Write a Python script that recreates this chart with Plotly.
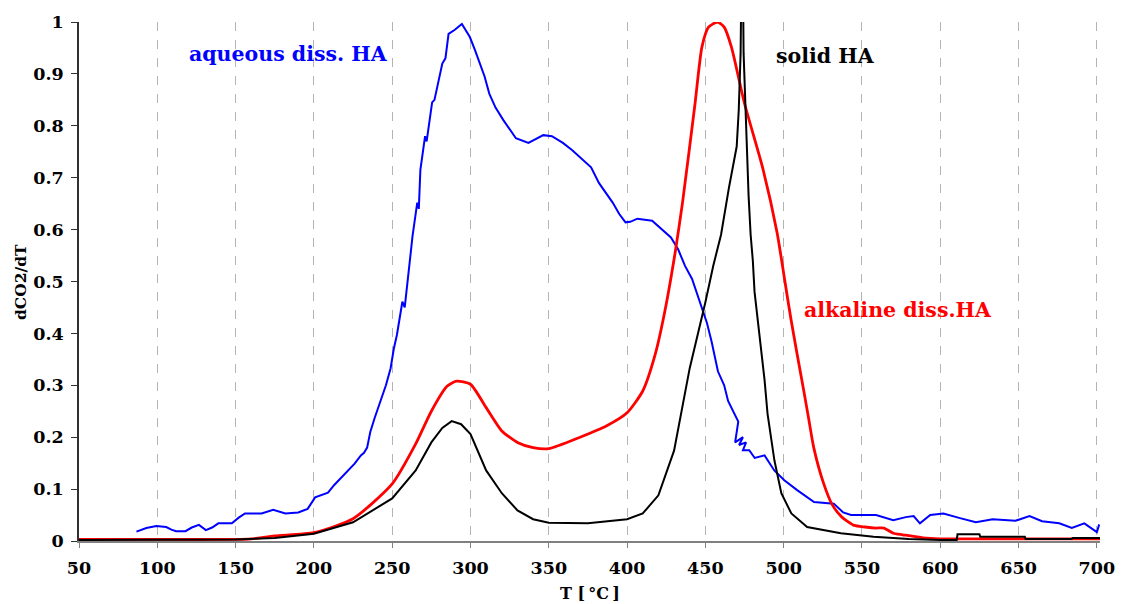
import plotly.graph_objects as go

# ---- data ----
t_solid = [50, 100, 150, 175, 200, 225, 250, 265, 275, 282, 288, 294, 300, 310, 320, 330,
           340, 350, 375, 400, 410, 420, 430, 440, 450, 455, 460, 465, 468, 470, 471.3,
           472.5, 473.0, 474.0, 474.4, 475.5, 476.8, 477.6, 478.9, 480.3, 481.4, 484.5,
           487.8, 489.7, 494.1, 498.5, 504.9, 515, 536.5, 557.4, 580, 600, 610.5, 611,
           625, 625.5, 654, 654.5, 684, 684.5, 702]
y_solid = [0.002, 0.002, 0.003, 0.006, 0.014, 0.036, 0.082, 0.136, 0.19, 0.218, 0.231, 0.225,
           0.206, 0.136, 0.092, 0.059, 0.042, 0.035, 0.034, 0.042, 0.053, 0.088, 0.174, 0.333,
           0.46, 0.53, 0.59, 0.68, 0.73, 0.76, 0.83, 0.94, 1.08, 1.08, 0.94, 0.84, 0.75,
           0.665, 0.59, 0.54, 0.48, 0.40, 0.31, 0.245, 0.155, 0.092, 0.053, 0.027, 0.015,
           0.008, 0.004, 0.002, 0.002, 0.013, 0.013, 0.008, 0.008, 0.004, 0.004, 0.006, 0.006]

t_alk = [50, 100, 150, 160, 175, 200, 225, 250, 265, 275, 285, 291, 300, 310, 320, 330, 340,
         350, 370, 387, 400, 410, 418, 424.4, 430.7, 435.4, 443.4, 447.8, 452, 457.8, 462,
         466.6, 475, 486.5, 495.8, 500.8, 504.5, 508.6, 512.8, 516, 519.2, 525.5, 531, 537.2,
         545, 552, 559, 564, 570, 576, 589, 600, 606, 702]
y_alk = [0.003, 0.003, 0.003, 0.004, 0.01, 0.016, 0.043, 0.11, 0.187, 0.25, 0.298, 0.308,
         0.302, 0.257, 0.212, 0.19, 0.18, 0.178, 0.2, 0.222, 0.247, 0.289, 0.36, 0.447, 0.556,
         0.652, 0.843, 0.952, 0.99, 1.0, 0.99, 0.952, 0.843, 0.72, 0.594, 0.50, 0.43, 0.36,
         0.29, 0.235, 0.18, 0.111, 0.07, 0.046, 0.03, 0.027, 0.025, 0.025, 0.015, 0.012,
         0.006, 0.004, 0.004, 0.004]

t_aq = [86.7, 93, 99.4, 105.7, 109, 112, 118, 122, 126.6, 131, 135, 139, 147.6, 152, 156,
        166.6, 174, 181.8, 190, 196, 200.8, 205, 209, 213, 217, 222, 226, 230, 232, 234, 236,
        238.8, 242.6, 246, 249, 251, 253, 256.5, 258, 261, 262, 263, 266, 267, 268, 271, 272,
        275.5, 277, 282, 284, 286, 290, 294.5, 299.6, 303, 306, 309, 312, 316, 321, 329, 337,
        346.5, 352, 359, 365, 372, 377, 382, 386, 390.8, 395, 399, 402, 406.6, 416, 424,
        428, 432.6, 437, 441.5, 447.8, 451, 454, 458, 462, 464.5, 471, 469, 474, 471.5, 476,
        474, 478, 481.5, 487.8, 494, 500.4, 508.6, 519.4, 532, 538, 543, 551, 559, 570, 578,
        583, 587, 593.6, 602, 612.6, 622.7, 633.5, 641.7, 648, 657, 665, 676, 684, 692, 700,
        701.5]
y_aq = [0.018, 0.025, 0.029, 0.027, 0.022, 0.019, 0.019, 0.026, 0.031, 0.021, 0.026, 0.034,
        0.034, 0.045, 0.053, 0.053, 0.06, 0.053, 0.055, 0.062, 0.084, 0.088, 0.093, 0.108,
        0.12, 0.135, 0.149, 0.165, 0.17, 0.18, 0.21, 0.237, 0.27, 0.3, 0.333, 0.37, 0.397,
        0.461, 0.45, 0.524, 0.56, 0.588, 0.652, 0.64, 0.715, 0.78, 0.77, 0.845, 0.85, 0.92,
        0.93, 0.977, 0.985, 0.996, 0.971, 0.945, 0.92, 0.895, 0.862, 0.835, 0.811, 0.776,
        0.767, 0.782, 0.78, 0.767, 0.753, 0.734, 0.72, 0.69, 0.672, 0.652, 0.63, 0.614,
        0.615, 0.621, 0.617, 0.595, 0.585, 0.562, 0.53, 0.505, 0.45, 0.42, 0.384, 0.327, 0.3,
        0.27, 0.23, 0.19, 0.2, 0.185, 0.19, 0.175, 0.175, 0.16, 0.165, 0.136, 0.117, 0.098,
        0.075, 0.072, 0.055, 0.05, 0.05, 0.05, 0.04, 0.046, 0.048, 0.034, 0.05, 0.053, 0.044,
        0.036, 0.042, 0.04, 0.039, 0.048, 0.038, 0.034, 0.025, 0.034, 0.017, 0.032, 0.021,
        0.02]

x_ticks = [50, 100, 150, 200, 250, 300, 350, 400, 450, 500, 550, 600, 650, 700]

FONT = "DejaVu Serif"

fig = go.Figure()
fig.add_trace(go.Scatter(x=t_aq, y=y_aq, mode="lines",
                         line=dict(color="#0000FF", width=2), showlegend=False))
fig.add_trace(go.Scatter(x=t_alk, y=y_alk, mode="lines",
                         line=dict(color="#FF0000", width=2.8, shape="spline", smoothing=0.6),
                         showlegend=False))
fig.add_trace(go.Scatter(x=t_solid, y=y_solid, mode="lines",
                         line=dict(color="#000000", width=2), showlegend=False))

fig.update_layout(
    width=1127, height=604,
    margin=dict(l=79, r=19, t=18, b=63),
    paper_bgcolor="white", plot_bgcolor="white",
    font=dict(family=FONT, size=17, color="black"),
    xaxis=dict(range=[50, 702], tickvals=x_ticks, showgrid=True, gridcolor="#b4b4b4",
               griddash="dash", gridwidth=1, zeroline=False, showline=True,
               linecolor="#808080", linewidth=1.5, ticks="outside", ticklen=5,
               tickcolor="#808080", ticklabelstandoff=5,
               tickfont=dict(family=FONT, size=17.5, color="black", weight="bold")),
    yaxis=dict(range=[0, 1], dtick=0.1, showgrid=False, zeroline=False, showline=True,
               linecolor="#303030", linewidth=1.5, ticks="outside", ticklen=6,
               tickcolor="#303030", ticklabelstandoff=4,
               tickfont=dict(family=FONT, size=17.5, color="black", weight="bold")),
    annotations=[
        dict(x=119, y=0.939, xref="x", yref="y", text="<b>aqueous diss. HA</b>",
             showarrow=False, xanchor="left", yanchor="middle",
             font=dict(family=FONT, size=20.5, color="#0000FF")),
        dict(x=494, y=0.935, xref="x", yref="y", text="<b>solid HA</b>",
             showarrow=False, xanchor="left", yanchor="middle",
             font=dict(family=FONT, size=20.5, color="black")),
        dict(x=511.8, y=0.445, xref="x", yref="y", text="<b>alkaline diss.HA</b>",
             showarrow=False, xanchor="left", yanchor="middle",
             font=dict(family=FONT, size=20.5, color="#FF0000")),
        dict(x=-0.0573, y=0.5, xref="paper", yref="paper", text="<b>dCO2/dT</b>",
             showarrow=False, textangle=-90, xanchor="center", yanchor="middle",
             font=dict(family=FONT, size=15.5, color="black")),
        dict(x=0.5, y=-0.101, xref="paper", yref="paper", text="<b>T [\u2009°C\u2009]</b>",
             showarrow=False, xanchor="center", yanchor="middle",
             font=dict(family=FONT, size=16, color="black")),
    ],
)

fig.write_html("out.html")
